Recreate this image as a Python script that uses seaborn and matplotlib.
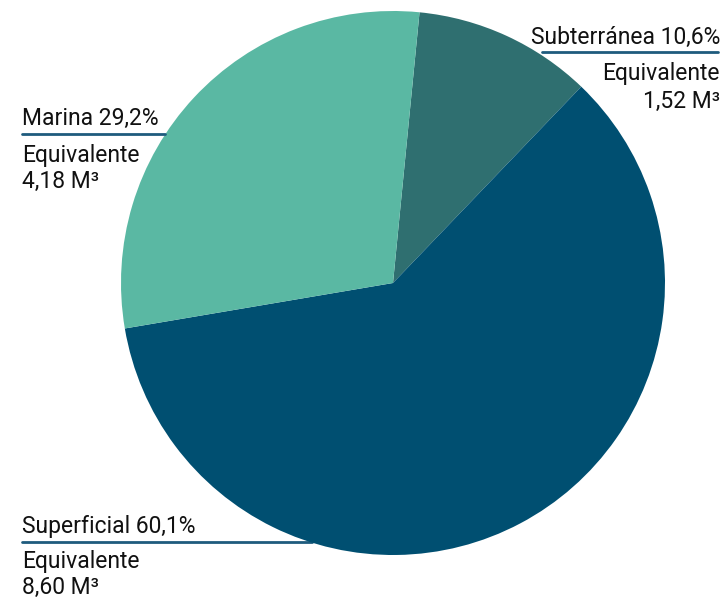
import matplotlib
matplotlib.use("Agg")
import matplotlib.pyplot as plt
import seaborn as sns

# Data
categorias = ["Subterránea", "Superficial", "Marina"]
porcentajes = [10.6, 60.1, 29.2]
etiquetas_pct = ["10,6%", "60,1%", "29,2%"]
equivalentes = ["1,52 M³", "8,60 M³", "4,18 M³"]
colores = ["#2f6f70", "#004f71", "#5ab8a3"]

sns.set_theme(style="white")
plt.rcParams["font.family"] = ["Roboto", "DejaVu Sans"]

W, H = 728, 603
fig = plt.figure(figsize=(W / 100, H / 100), dpi=100)

# pie centre and radius in pixels
cx, cy, r = 393, 283, 272
ax = fig.add_axes([(cx - r) / W, (H - cy - r) / H, 2 * r / W, 2 * r / H])
ax.pie(porcentajes, colors=colores, startangle=84.4, counterclock=False,
       radius=1, wedgeprops=dict(linewidth=0))
ax.set_xlim(-1, 1)
ax.set_ylim(-1, 1)
ax.set_aspect("auto")
ax.axis("off")


def px(x, y):
    return (x - cx) / r, (cy - y) / r


linea = "#1e5b7d"
fs = 16.5
txt = "#111111"

# Subterránea (right aligned)
ax.text(*px(720, 44), f"{categorias[0]} {etiquetas_pct[0]}", ha="right", va="baseline",
        fontsize=fs, color=txt)
ax.plot(*zip(px(542, 52), px(718, 52)), color=linea, lw=2, clip_on=False)
ax.text(*px(720, 80), "Equivalente", ha="right", va="baseline", fontsize=fs, color=txt)
ax.text(*px(720, 108), equivalentes[0], ha="right", va="baseline", fontsize=fs, color=txt)

# Marina
ax.text(*px(22, 125), f"{categorias[2]} {etiquetas_pct[2]}", ha="left", va="baseline",
        fontsize=fs, color=txt)
ax.plot(*zip(px(22, 134), px(165, 134)), color=linea, lw=2, clip_on=False)
ax.text(*px(22, 162), "Equivalente", ha="left", va="baseline", fontsize=fs, color=txt)
ax.text(*px(22, 188), equivalentes[2], ha="left", va="baseline", fontsize=fs, color=txt)

# Superficial
ax.text(*px(22, 533), f"{categorias[1]} {etiquetas_pct[1]}", ha="left", va="baseline",
        fontsize=fs, color=txt)
ax.plot(*zip(px(22, 542), px(312, 542)), color=linea, lw=2, clip_on=False, zorder=0)
ax.text(*px(22, 568), "Equivalente", ha="left", va="baseline", fontsize=fs, color=txt)
ax.text(*px(22, 594), equivalentes[1], ha="left", va="baseline", fontsize=fs, color=txt)

fig.savefig("out.png", dpi=100)
